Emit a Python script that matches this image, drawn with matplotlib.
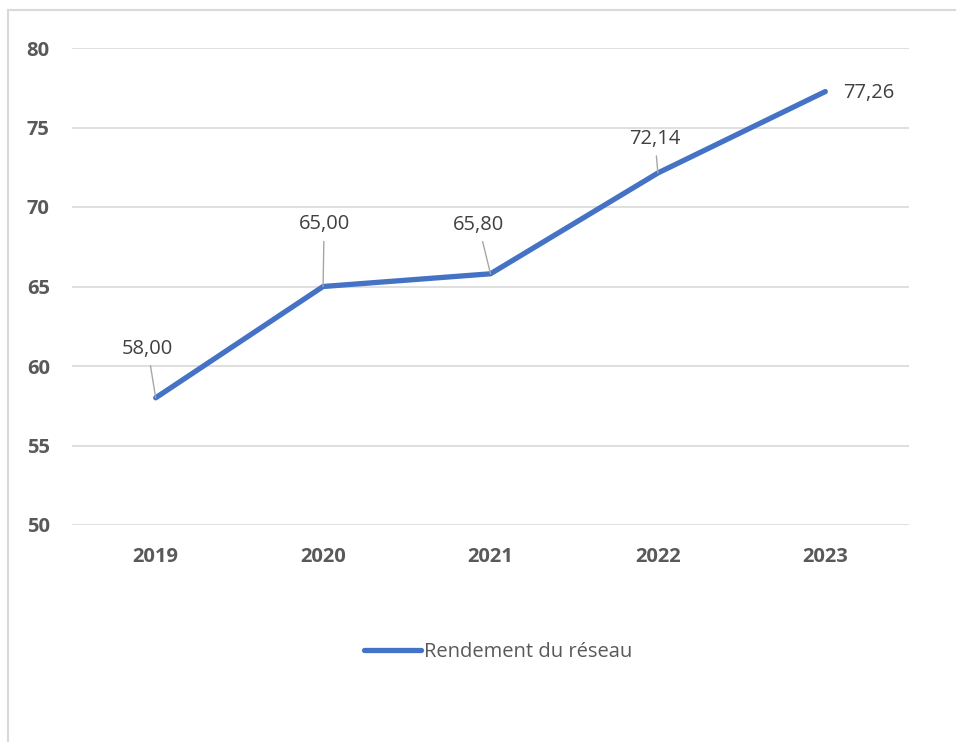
import matplotlib.pyplot as plt
from matplotlib.patches import Rectangle

years = ["2019", "2020", "2021", "2022", "2023"]
rendement = [58.00, 65.00, 65.80, 72.14, 77.26]
serie_nom = "Rendement du réseau"

# décalage des étiquettes (en pixels) par rapport au point
label_offsets = [(-8, 49), (1, 62), (-12, 49), (-3, 34), (43, -1)]
leader = [True, True, True, True, False]

plt.rcParams['font.family'] = ['Open Sans', 'DejaVu Sans']

fig = plt.figure(figsize=(9.56, 7.42), dpi=100)
ax = fig.add_axes([72 / 956, 1 - 525 / 742, (909 - 72) / 956, (525 - 48) / 742])

# cadre gris du graphique
fig.patches.append(Rectangle((8 / 956, -0.1), 1.2, 1 - 10 / 742 + 0.1,
                             transform=fig.transFigure, fill=False,
                             edgecolor='#d9d9d9', linewidth=1.5))

x = list(range(len(years)))
ax.plot(x, rendement, color='#4472C4', linewidth=3.8, solid_capstyle='round',
        solid_joinstyle='round', label=serie_nom, zorder=3)

for i, v in enumerate(rendement):
    dx, dy = label_offsets[i]
    txt = f"{v:.2f}".replace('.', ',')
    props = None
    if leader[i]:
        props = dict(arrowstyle='-', color='#a6a6a6', lw=1, shrinkA=3, shrinkB=0)
    ax.annotate(txt, xy=(i, v), xytext=(dx, dy), textcoords='offset pixels',
                ha='center', va='center', fontsize=14.5, color='#404040',
                arrowprops=props)

ax.set_xlim(-0.5, len(years) - 0.5)
ax.set_ylim(50, 80)
ax.set_yticks(range(50, 81, 5))
ax.set_xticks(x)
ax.set_xticklabels(years)
ax.yaxis.grid(True, color='#d9d9d9', linewidth=1.2)
ax.set_axisbelow(True)
for s in ax.spines.values():
    s.set_visible(False)
ax.tick_params(length=0, labelsize=14.5, labelcolor='#595959')
ax.tick_params(axis='y', pad=16)
ax.tick_params(axis='x', pad=16)
for lab in ax.get_xticklabels() + ax.get_yticklabels():
    lab.set_fontweight('bold')

leg = fig.legend(loc='center', bbox_to_anchor=(498 / 956, 1 - 652 / 742),
                 frameon=False, fontsize=14.5, handlelength=2.8, handletextpad=0.15)
for t in leg.get_texts():
    t.set_color('#595959')

fig.savefig('out.png', dpi=100)
